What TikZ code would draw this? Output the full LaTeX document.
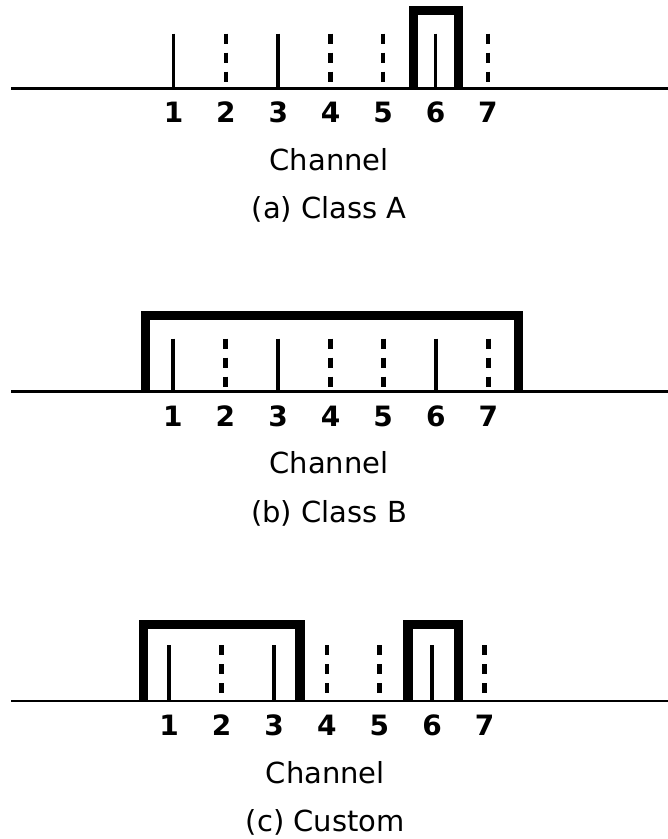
\documentclass[tikz,border=0pt]{standalone}
\usepackage{fontspec}
\setmainfont{DejaVu Sans}
\begin{document}
\begin{tikzpicture}[x=1pt,y=-1pt,
  baseln/.style={line width=2.6pt},
  soltick/.style={line width=3.8pt},
  dshtick/.style={line width=4.6pt,dash pattern=on 10pt off 9pt},
  chbox/.style={line width=9.5pt,line join=miter},
  numlbl/.style={anchor=base,inner sep=0pt,font=\fontsize{28}{28}\selectfont\bfseries},
  txtlbl/.style={anchor=base,inner sep=0pt,font=\fontsize{29}{29}\selectfont}]
\useasboundingbox (0,0) rectangle (668,839);

% #1 id, #2 baseline y, #3 x of tick 1, #4 spacing, #5 tick top y, #6 caption
\newcommand\drawpanel[6]{%
  \coordinate (#1L) at (11,#2);
  \coordinate (#1R) at (668,#2);
  \draw[baseln] (#1L) -- (#1R);
  \foreach \i in {1,...,7}{%
    \coordinate (#1t\i) at ({#3+(\i-1)*#4},#5);
    \coordinate (#1b\i) at ({#3+(\i-1)*#4},#2);
    \coordinate (#1d\i) at ({#3+(\i-1)*#4},#5+48);
    \node[numlbl] (#1n\i) at ({#3+(\i-1)*#4},#2+34.5) {\i};
  }
  \foreach \i in {1,3,6}{\draw[soltick] (#1t\i) -- (#1b\i);}
  \foreach \i in {2,4,5,7}{\draw[dshtick] (#1t\i) -- (#1d\i);}
  \node[txtlbl] (#1ch) at ({#3+3*#4-1.5},#2+82) {Channel};
  \node[txtlbl] (#1cap) at ({#3+3*#4-1.5},#2+130.5) {#6};
}

\drawpanel{A}{88.3}{173.5}{52.4}{33.5}{(a) Class A}
\drawpanel{B}{391.5}{172.8}{52.6}{338.5}{(b) Class B}
\drawpanel{C}{701}{169}{52.6}{645}{(c) Custom}

% boxes
\coordinate (Ab1) at (413.7,88.3);  \coordinate (Ab2) at (458.7,10.7);
\draw[chbox] (Ab1) |- (Ab2) -- (Ab2 |- Ab1);
\coordinate (Bb1) at (145.7,391.5); \coordinate (Bb2) at (518.3,315.7);
\draw[chbox] (Bb1) |- (Bb2) -- (Bb2 |- Bb1);
\coordinate (Cb1) at (143.3,701);   \coordinate (Cb2) at (300,624.3);
\draw[chbox] (Cb1) |- (Cb2) -- (Cb2 |- Cb1);
\coordinate (Cc1) at (408,701);     \coordinate (Cc2) at (458.3,624.3);
\draw[chbox] (Cc1) |- (Cc2) -- (Cc2 |- Cc1);
\end{tikzpicture}
\end{document}
